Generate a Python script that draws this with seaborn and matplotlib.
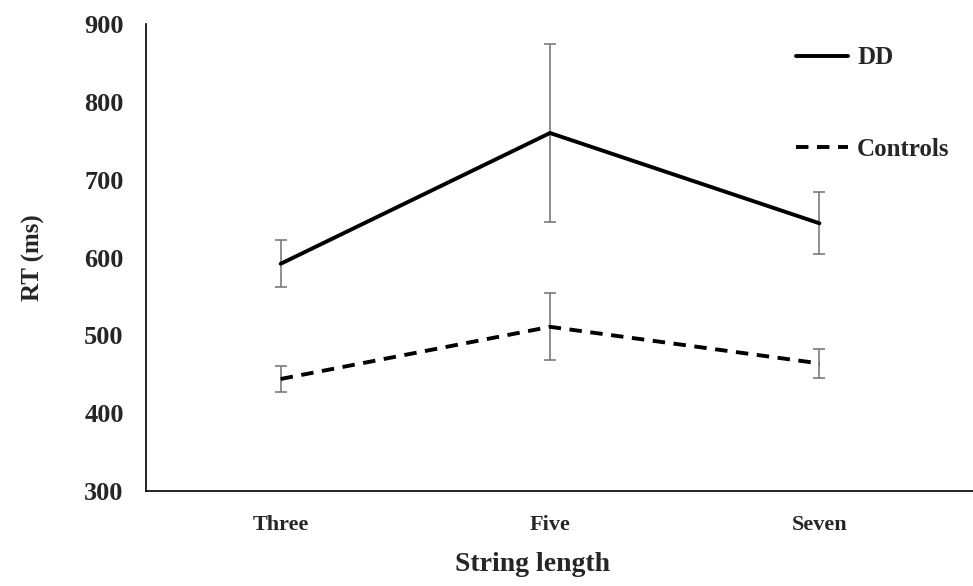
import numpy as np
import pandas as pd
import matplotlib
matplotlib.use("Agg")
import matplotlib.pyplot as plt
import seaborn as sns

# valores
lengths = ["Three", "Five", "Seven"]
groups = ["DD", "Controls"]
dd_rt = [592, 760, 644]
dd_err = [30, 114, 40]
ctrl_rt = [444, 511, 464]
ctrl_err = [17, 43, 19]

df = pd.DataFrame({
    "length": lengths * 2,
    "rt": dd_rt + ctrl_rt,
    "err": dd_err + ctrl_err,
    "group": ["DD"] * 3 + ["Controls"] * 3,
})

sns.set_style("white")
plt.rcParams["font.family"] = ["Liberation Serif", "DejaVu Serif"]
plt.rcParams["font.weight"] = "bold"

fig = plt.figure(figsize=(9.73, 5.86), dpi=100)
ax = fig.add_axes([0.150, 0.162, 0.85, 0.797])

# barras de error primero (gris, debajo de las lineas)
for g in groups:
    sub = df[df.group == g]
    ax.errorbar(np.arange(3), sub.rt, yerr=sub.err, fmt="none",
                ecolor="#7a7a7a", elinewidth=1.2, capsize=4.5, capthick=1.2, zorder=1)

sns.lineplot(data=df, x="length", y="rt", hue="group", style="group",
             palette={"DD": "black", "Controls": "black"},
             dashes={"DD": "", "Controls": (3.2, 2.2)},
             linewidth=2.8, sort=False, ax=ax, zorder=2)

ax.set_ylim(300, 900)
ax.set_xlim(-0.5, 2.57)
ax.set_yticks(range(300, 901, 100))
ax.tick_params(axis="both", length=0)
ax.tick_params(axis="y", labelsize=19, pad=16)
ax.tick_params(axis="x", labelsize=16, pad=17)
for lab in ax.get_xticklabels() + ax.get_yticklabels():
    lab.set_fontweight("bold")

ax.set_xlabel("String length", fontsize=20, fontweight="bold", labelpad=14)
ax.xaxis.set_label_coords(0.467, -0.13)
ax.set_ylabel("RT (ms)", fontsize=18, fontweight="bold", labelpad=28)

for s in ["top", "right"]:
    ax.spines[s].set_visible(False)
for s in ["left", "bottom"]:
    ax.spines[s].set_color("black")
    ax.spines[s].set_linewidth(1.2)

leg = ax.legend(loc="upper left", bbox_to_anchor=(0.818, 0.921),
                bbox_transform=fig.transFigure, frameon=False,
                borderpad=0, borderaxespad=0,
                handlelength=2.1, handletextpad=0.35, labelspacing=2.75,
                prop={"size": 18, "weight": "bold"})

fig.savefig("out.png", dpi=100)
